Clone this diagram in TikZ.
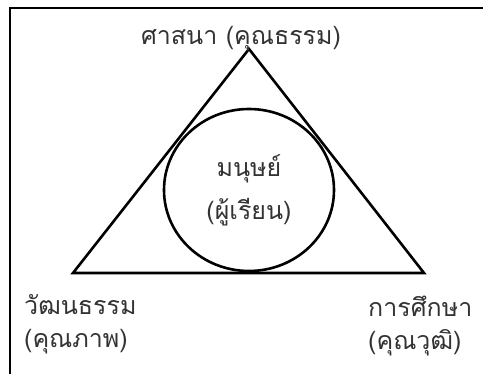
\documentclass[tikz,border=0pt]{standalone}
\usepackage{fontspec}
\newfontfamily\thaifont[Script=Thai]{Loma}
\usetikzlibrary{positioning,shapes.geometric}
\definecolor{ink}{HTML}{000000}
\tikzset{every node/.style={font=\thaifont\fontsize{25}{33}\selectfont,text=ink!80},
  edge/.style={draw=ink,line width=2.6pt,line join=miter},
  frame/.style={draw=ink,line width=2.6pt},
  core/.style={ellipse,draw=ink,line width=2.6pt,minimum width=170pt,minimum height=162pt,
    align=center,inner sep=0pt,font=\thaifont\fontsize{25}{43}\selectfont},
  caption/.style={align=left,inner sep=0pt,anchor=base west}}
\begin{document}
\begin{tikzpicture}[x=1pt,y=-1pt]
\useasboundingbox (0,0) rectangle (483,374);
\clip (0,0) rectangle (483,374);
\draw[frame] (10,8) rectangle (500,400);
% vertices
\coordinate (apex) at (249,49);
\coordinate (left) at (73,273);
\coordinate (right) at (424,273);
\draw[edge] (apex) -- (left) -- (right) -- cycle;
\node[core] (human) at (249,190) {มนุษย์\\(ผู้เรียน)};
\node[inner sep=0pt,anchor=base] (religion) at (241,45) {ศาสนา (คุณธรรม)};
\node[caption] (culture) at (24,348) {วัฒนธรรม\\(คุณภาพ)};
\node[caption] (education) at (368,350) {การศึกษา\\(คุณวุฒิ)};
\end{tikzpicture}
\end{document}
